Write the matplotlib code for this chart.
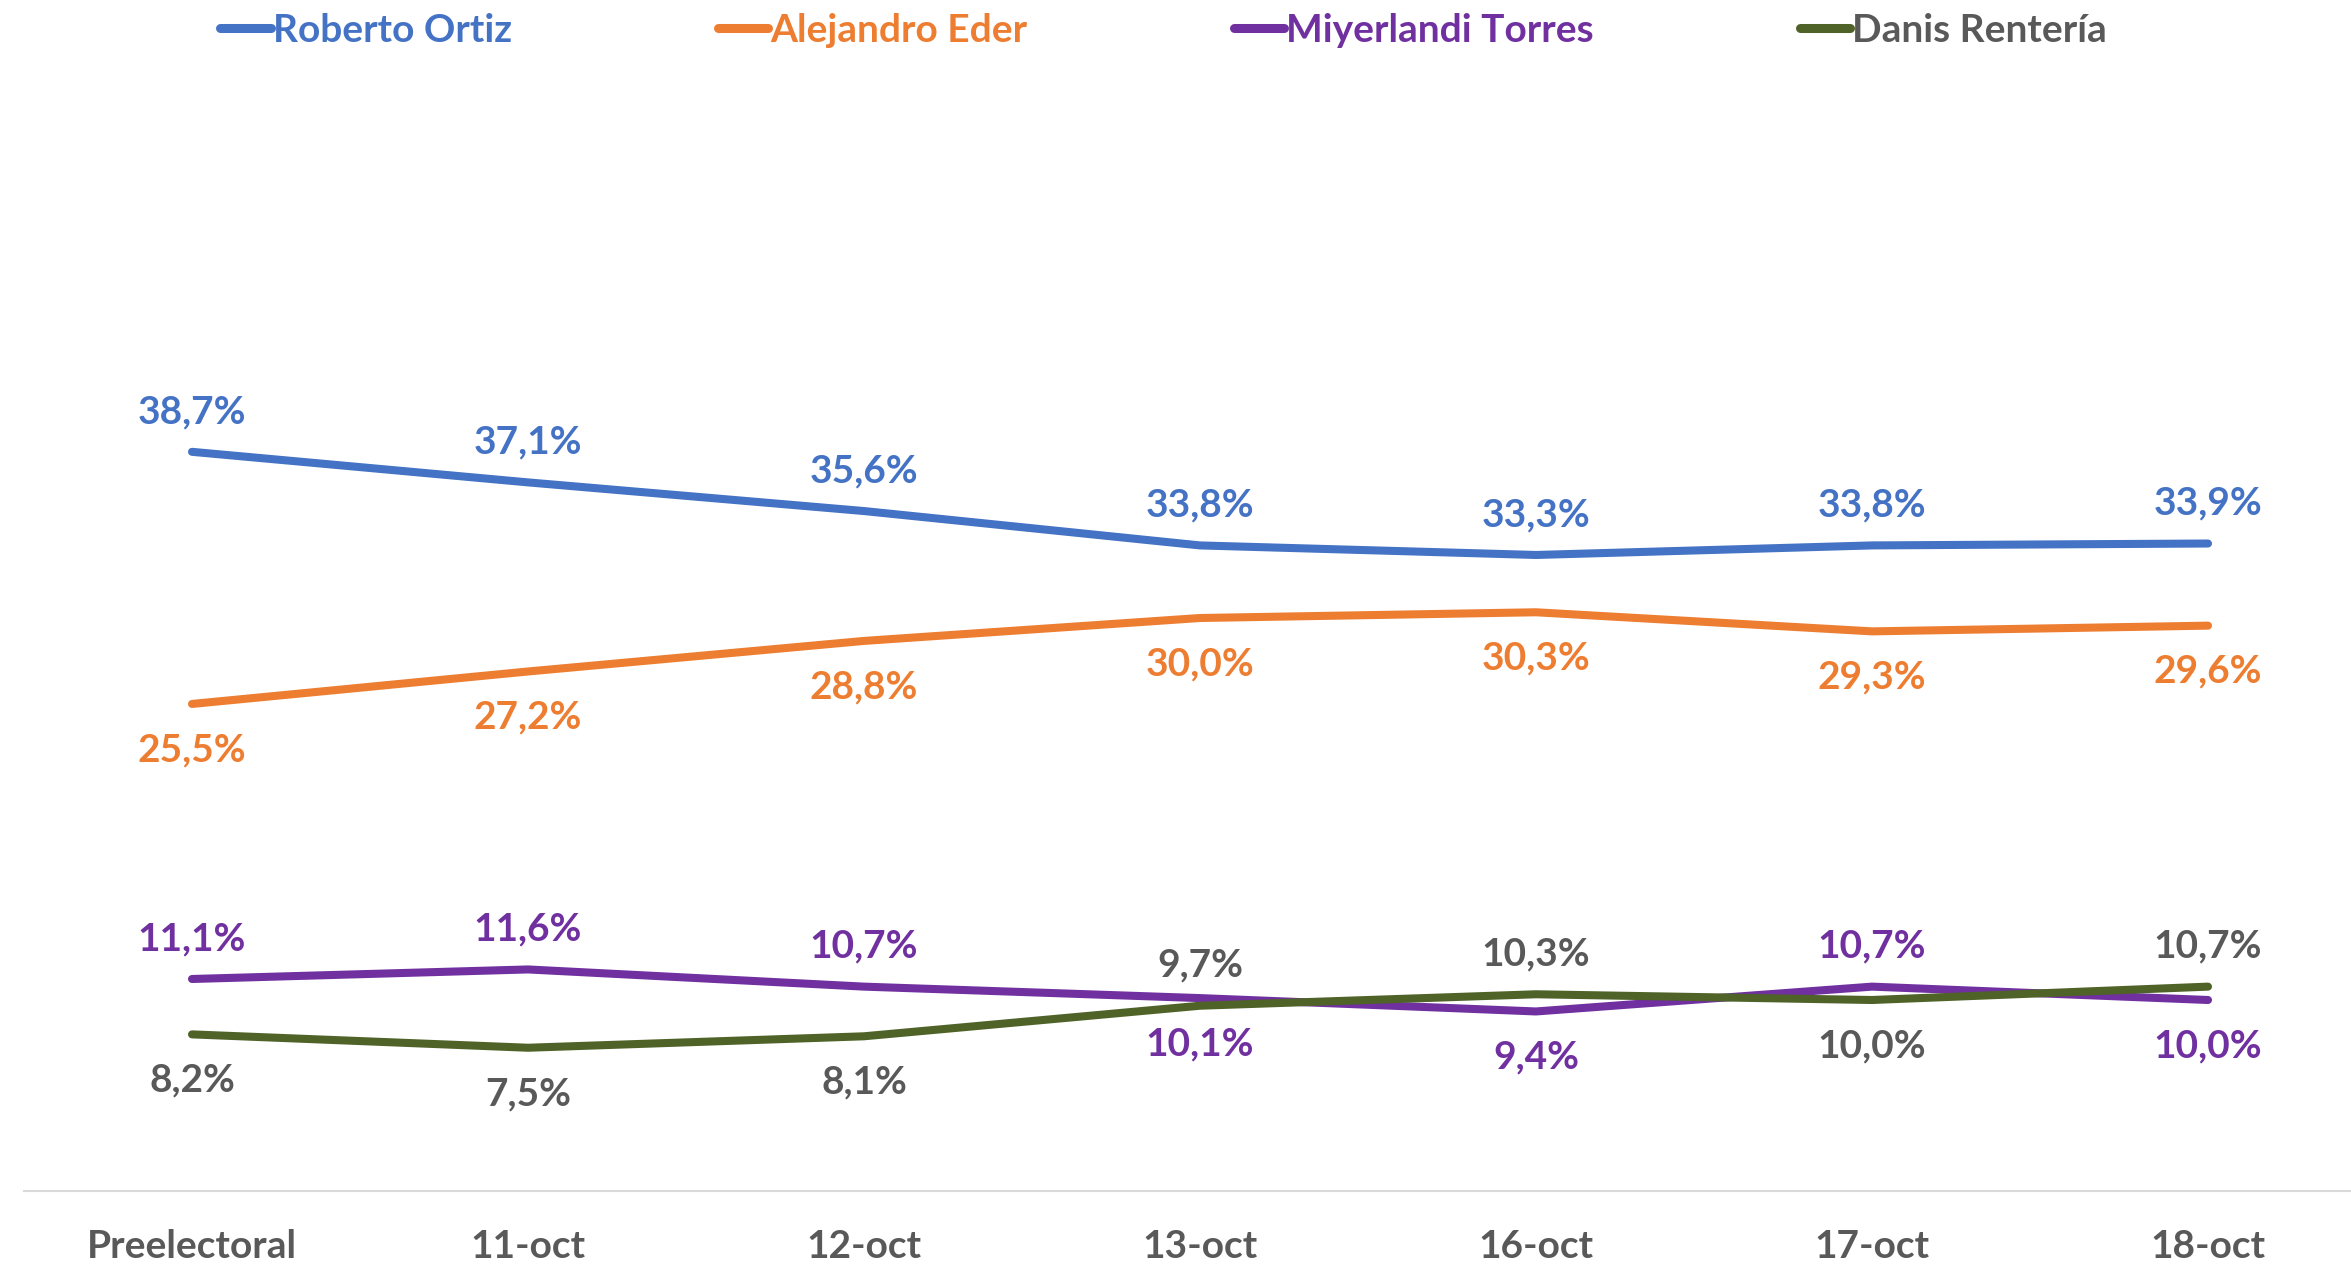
import matplotlib
matplotlib.use("Agg")
import matplotlib.pyplot as plt

plt.rcParams['font.family'] = ['Lato', 'DejaVu Sans']
plt.rcParams['font.weight'] = 'bold'

fechas = ['Preelectoral', '11-oct', '12-oct', '13-oct', '16-oct', '17-oct', '18-oct']
ortiz = [38.7, 37.1, 35.6, 33.8, 33.3, 33.8, 33.9]
eder = [25.5, 27.2, 28.8, 30.0, 30.3, 29.3, 29.6]
torres = [11.1, 11.6, 10.7, 10.1, 9.4, 10.7, 10.0]
renteria = [8.2, 7.5, 8.1, 9.7, 10.3, 10.0, 10.7]

# label placement: 1 = above the point, -1 = below
pos_ortiz = [1, 1, 1, 1, 1, 1, 1]
pos_eder = [-1, -1, -1, -1, -1, -1, -1]
pos_torres = [1, 1, 1, -1, -1, 1, -1]
pos_renteria = [-1, -1, -1, 1, 1, -1, 1]

series = [
    ('Roberto Ortiz', ortiz, pos_ortiz, '#4472C4', '#4472C4'),
    ('Alejandro Eder', eder, pos_eder, '#ED7D31', '#ED7D31'),
    ('Miyerlandi Torres', torres, pos_torres, '#7030A0', '#7030A0'),
    ('Danis Rentería', renteria, pos_renteria, '#4F6228', '#595959'),
]

W, H = 2351, 1267
fig = plt.figure(figsize=(W / 100, H / 100), dpi=100)
# axes in pixel units: category width 336 px, x-axis at y=1191
ax = fig.add_axes([24 / W, (H - 1191) / H, 2352 / W, 955 / H])

x = list(range(len(fechas)))
for name, vals, pos, col, tcol in series:
    ax.plot(x, vals, color=col, lw=5.8, solid_capstyle='round', label=name)
    for xi, v, p in zip(x, vals, pos):
        off = 29 if p > 0 else -33
        ax.annotate(f"{v:.1f}%".replace('.', ','), (xi, v),
                    xytext=(0, off), textcoords='offset points',
                    ha='center', va='center', color=tcol,
                    fontsize=28, fontweight='bold')

ax.set_xlim(-0.5, len(fechas) - 0.5)
ax.set_ylim(0, 50)
ax.set_xticks(x)
ax.set_xticklabels(fechas, fontsize=28, fontweight='bold', color='#595959')
ax.tick_params(axis='x', length=0, pad=27)
ax.set_yticks([])
for s in ['top', 'right', 'left']:
    ax.spines[s].set_visible(False)
ax.spines['bottom'].set_color('#D9D9D9')
ax.spines['bottom'].set_linewidth(1.5)

leg = fig.legend(loc='center', bbox_to_anchor=(0.495, 1 - 30 / H), ncol=4,
                 frameon=False, fontsize=28, labelcolor=['#4472C4', '#ED7D31', '#7030A0', '#595959'],
                 handlelength=1.3, handletextpad=0.05, columnspacing=5.3)
for t in leg.get_texts():
    t.set_fontweight('bold')
for ln in leg.get_lines():
    ln.set_linewidth(6.5)

fig.savefig('out.png', dpi=100)
